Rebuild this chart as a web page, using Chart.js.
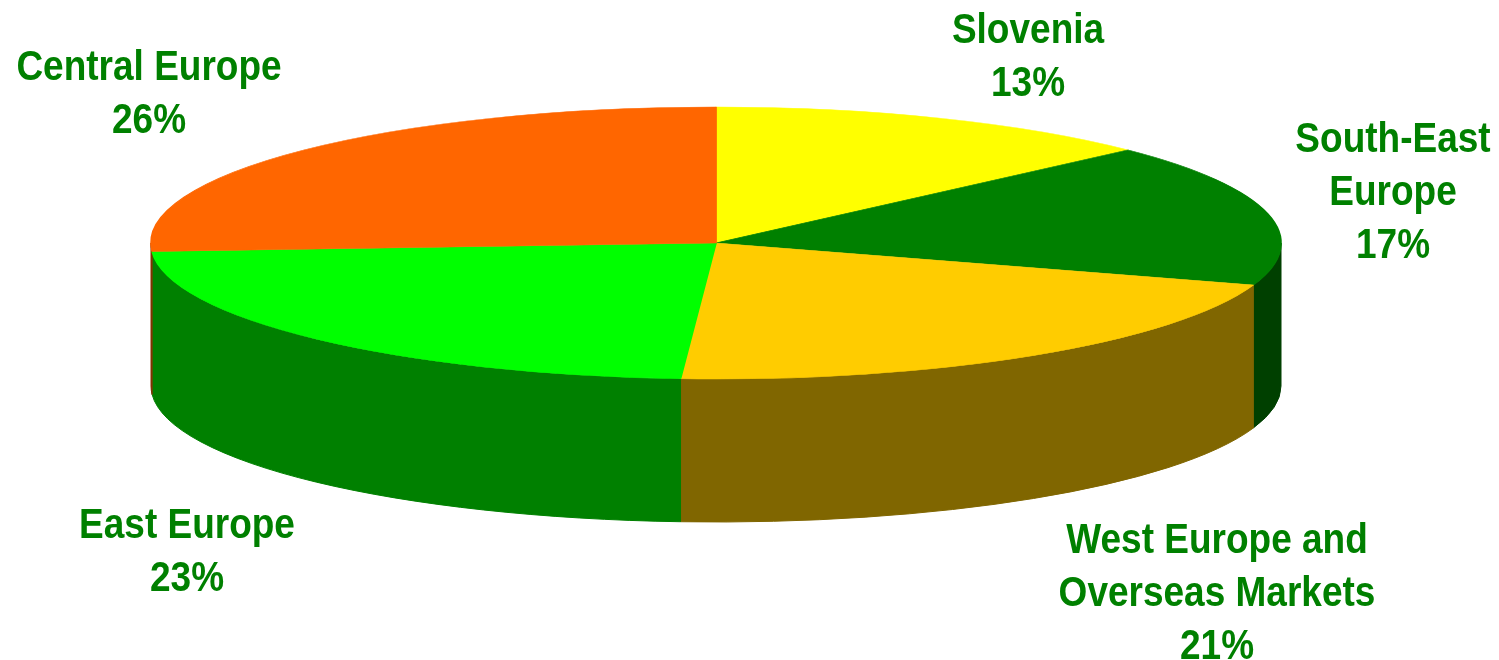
<!DOCTYPE html>
<html>
<head>
<meta charset="utf-8">
<script src="https://cdn.jsdelivr.net/npm/chart.js@4"></script>
<style>
  html, body { margin: 0; padding: 0; background: #fff; }
  #wrap { width: 1499px; height: 660px; }
</style>
</head>
<body>
<div id="wrap"><canvas id="chart" width="1499" height="660"></canvas></div>
<script>
const categories = [
  ['Slovenia'],
  ['South-East', 'Europe'],
  ['West Europe and', 'Overseas Markets'],
  ['East Europe'],
  ['Central Europe']
];
const shares = [13, 17, 21, 23, 26];
const topColors = ['#FFFF00', '#008000', '#FFCC00', '#00FF00', '#FF6600'];
const sideColors = ['#808000', '#004000', '#806600', '#008000', '#803300'];

// where the tilted disc sits on the page
const disc = { cx: 716, cy: 243, rx: 565, ry: 136, depth: 143 };
// label anchors: centre x, middle of the first line
const labelAnchors = [[1028, 28], [1393, 137], [1217, 538], [187, 523], [149, 65]];
const lineStep = 53;

const tiltPlugin = {
  id: 'tilt',
  beforeDatasetsDraw(chart) {
    const ctx = chart.ctx;
    const arcs = chart.getDatasetMeta(0).data;
    // side walls, only the front half (0..PI) shows
    arcs.forEach((arc, i) => {
      const a0 = Math.max(arc.startAngle, 0);
      const a1 = Math.min(arc.endAngle, Math.PI);
      if (a1 <= a0) return;
      ctx.beginPath();
      ctx.ellipse(disc.cx, disc.cy, disc.rx, disc.ry, 0, a0, a1);
      ctx.ellipse(disc.cx, disc.cy + disc.depth, disc.rx, disc.ry, 0, a1, a0, true);
      ctx.closePath();
      ctx.fillStyle = sideColors[i];
      ctx.strokeStyle = sideColors[i];
      ctx.lineWidth = 1;
      ctx.fill();
      ctx.stroke();
    });
    // squash the library's round pie into the top ellipse
    const ref = arcs[0];
    const R = ref.outerRadius;
    ctx.save();
    ctx.translate(disc.cx, disc.cy);
    ctx.scale(disc.rx / R, disc.ry / R);
    ctx.translate(-ref.x, -ref.y);
  },
  afterDatasetsDraw(chart) {
    chart.ctx.restore();
  },
  afterDraw(chart) {
    const ctx = chart.ctx;
    const total = shares.reduce((a, b) => a + b, 0);
    ctx.save();
    ctx.fillStyle = '#008000';
    ctx.font = 'bold 37px "Liberation Sans", Arial, sans-serif';
    ctx.textAlign = 'center';
    ctx.textBaseline = 'alphabetic';
    categories.forEach((lines, i) => {
      const text = lines.concat(Math.round(shares[i] / total * 100) + '%');
      const [x, y] = labelAnchors[i];
      text.forEach((t, k) => {
        ctx.save();
        ctx.translate(x, y + k * lineStep + 15);
        ctx.scale(1, 1.13);
        ctx.fillText(t, 0, 0);
        ctx.restore();
      });
    });
    ctx.restore();
  }
};

new Chart(document.getElementById('chart').getContext('2d'), {
  type: 'pie',
  data: {
    labels: categories.map(l => l.join(' ')),
    datasets: [{
      data: shares,
      backgroundColor: topColors,
      borderColor: topColors,
      borderWidth: 1,
      clip: false
    }]
  },
  options: {
    responsive: false,
    devicePixelRatio: 1,
    animation: false,
    events: [],
    plugins: {
      legend: { display: false },
      tooltip: { enabled: false }
    }
  },
  plugins: [tiltPlugin]
});
</script>
</body>
</html>
